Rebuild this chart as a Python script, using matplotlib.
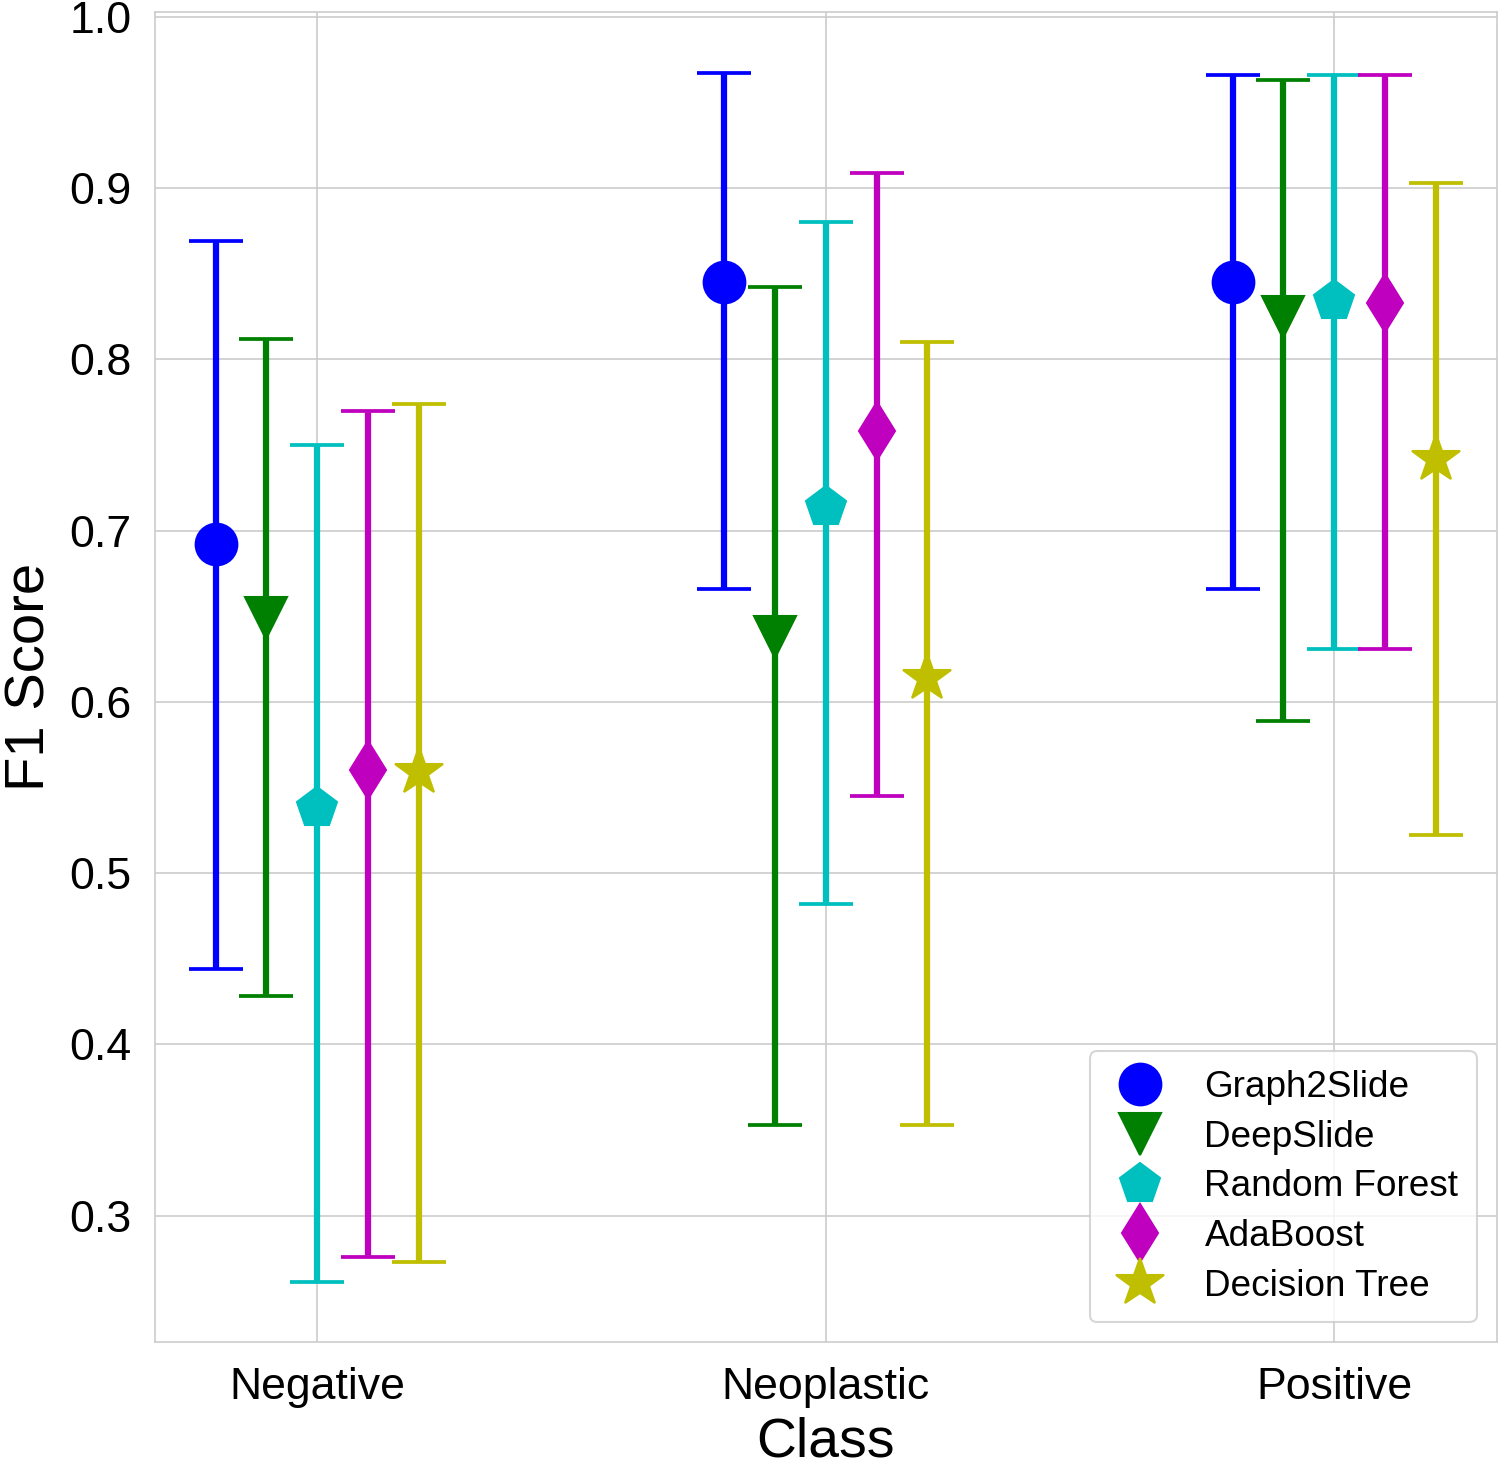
import numpy as np
import matplotlib
matplotlib.use("Agg")
import matplotlib.pyplot as plt
import seaborn as sns

sns.set_style("whitegrid")
plt.rcParams['font.family'] = ['Liberation Sans', 'DejaVu Sans']
plt.rcParams['text.color'] = 'black'
plt.rcParams['axes.labelcolor'] = 'black'
plt.rcParams['xtick.color'] = 'black'
plt.rcParams['ytick.color'] = 'black'

classes = ["Negative", "Neoplastic", "Positive"]
models = ["Graph2Slide", "DeepSlide", "Random Forest", "AdaBoost", "Decision Tree"]

# F1 moyen et bornes de l'intervalle, par modèle (Negative, Neoplastic, Positive)
f1_mean = {
    "Graph2Slide":   [0.692, 0.845, 0.845],
    "DeepSlide":     [0.649, 0.638, 0.825],
    "Random Forest": [0.538, 0.714, 0.834],
    "AdaBoost":      [0.560, 0.758, 0.833],
    "Decision Tree": [0.559, 0.614, 0.742],
}
f1_low = {
    "Graph2Slide":   [0.444, 0.666, 0.666],
    "DeepSlide":     [0.428, 0.353, 0.589],
    "Random Forest": [0.261, 0.482, 0.631],
    "AdaBoost":      [0.276, 0.545, 0.631],
    "Decision Tree": [0.273, 0.353, 0.522],
}
f1_high = {
    "Graph2Slide":   [0.869, 0.967, 0.966],
    "DeepSlide":     [0.812, 0.842, 0.963],
    "Random Forest": [0.750, 0.880, 0.966],
    "AdaBoost":      [0.770, 0.909, 0.966],
    "Decision Tree": [0.774, 0.810, 0.903],
}

colors = ['b', 'g', 'c', 'm', 'y']
markers = ['o', 'v', 'p', 'd', '*']
offsets = [-0.2, -0.1, 0.0, 0.1, 0.2]

fig = plt.figure(figsize=(10, 9.78), dpi=150)
ax = fig.add_axes([0.103, 0.085, 0.895, 0.907])

x = np.arange(len(classes))
for m, c, mk, off in zip(models, colors, markers, offsets):
    mean = np.array(f1_mean[m])
    err = [mean - np.array(f1_low[m]), np.array(f1_high[m]) - mean]
    ax.errorbar(x + off, mean, yerr=err, fmt='none', ecolor=c,
                elinewidth=3, capsize=13, capthick=1.8)
    ax.plot(x + off, mean, linestyle='none', marker=mk, color=c,
            markersize=24 if mk == '*' else 20, label=m)

ax.set_xticks(x)
ax.set_xticklabels(classes)
ax.set_xlim(-0.32, 2.32)
ax.set_ylim(0.226, 1.003)
ax.set_yticks([0.3, 0.4, 0.5, 0.6, 0.7, 0.8, 0.9, 1.0])
ax.tick_params(axis='x', labelsize=21.4, pad=8.5)
ax.tick_params(axis='y', labelsize=21.4, pad=7.5)
ax.set_xlabel("Class", fontsize=26.5, labelpad=4)
ax.set_ylabel("F1 Score", fontsize=27, labelpad=6)
ax.legend(loc='lower right', fontsize=17.7, borderpad=0.5, handletextpad=0.9,
          handlelength=1.7, labelspacing=0.4, borderaxespad=0,
          bbox_to_anchor=(0.985, 0.015))

plt.savefig("out.png", dpi=150)
